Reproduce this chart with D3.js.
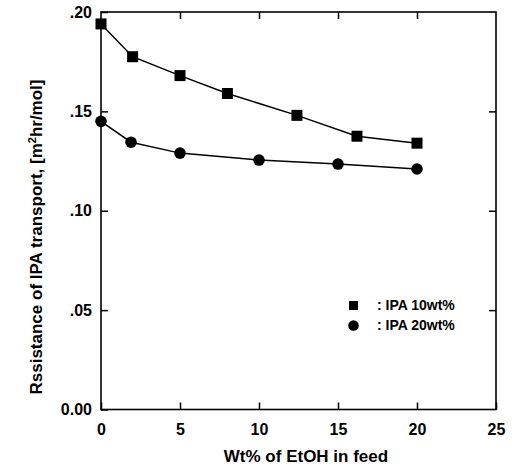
<!DOCTYPE html>
<html><head><meta charset="utf-8">
<script src="https://cdn.jsdelivr.net/npm/d3@7"></script>
<style>body{margin:0;background:#fff}svg{display:block}text{font-family:"Liberation Sans",Arial,sans-serif;fill:#000;font-weight:bold}</style>
</head><body><svg id="c" width="515" height="468"></svg>
<script>
const sqX = [0, 2, 5, 8, 12.4, 16.2, 20];
const sqY = [0.194, 0.1775, 0.168, 0.159, 0.148, 0.1375, 0.134];
const ciX = [0, 1.9, 5, 10, 15, 20];
const ciY = [0.145, 0.1345, 0.129, 0.1255, 0.1235, 0.121];
const xTicks = [0, 5, 10, 15, 20, 25];
const yTicks = [0, 0.05, 0.10, 0.15, 0.20];
const yTickLabels = ["0.00", ".05", ".10", ".15", ".20"];
const legendLabels = [": IPA 10wt%", ": IPA 20wt%"];

const svg = d3.select("#c");
const L = 101, R = 496, T = 12, B = 409.5;
const x = d3.scaleLinear().domain([0, 25]).range([L, R]);
const y = d3.scaleLinear().domain([0, 0.2]).range([B, T]);
const tl = 7;

svg.append("rect").attr("x", L).attr("y", T).attr("width", R - L).attr("height", B - T)
  .attr("fill", "none").attr("stroke", "#000").attr("stroke-width", 1.6);

const gB = svg.append("g").attr("transform", `translate(0,${B})`)
  .call(d3.axisBottom(x).tickValues(xTicks).tickSizeInner(-tl).tickSizeOuter(0).tickPadding(14).tickFormat(d3.format("d")));
const gT = svg.append("g").attr("transform", `translate(0,${T})`)
  .call(d3.axisTop(x).tickValues(xTicks.slice(1, -1)).tickSizeInner(-tl).tickSizeOuter(0).tickFormat(""));
const gL = svg.append("g").attr("transform", `translate(${L},0)`)
  .call(d3.axisLeft(y).tickValues(yTicks).tickSizeInner(-tl).tickSizeOuter(0).tickPadding(9).tickFormat((d, i) => yTickLabels[i]));
const gR = svg.append("g").attr("transform", `translate(${R},0)`)
  .call(d3.axisRight(y).tickValues(yTicks.slice(1, -1)).tickSizeInner(-tl).tickSizeOuter(0).tickFormat(""));
[gB, gT, gL, gR].forEach(g => {
  g.select(".domain").remove();
  g.selectAll(".tick line").attr("stroke", "#000").attr("stroke-width", 1.5);
  g.selectAll("text").style("font-size", "16px").style("font-weight", "bold").attr("fill", "#000").attr("font-family", null);
});

const line = d3.line().x(d => x(d[0])).y(d => y(d[1]));
const sq = sqX.map((v, i) => [v, sqY[i]]);
const ci = ciX.map((v, i) => [v, ciY[i]]);
svg.append("path").datum(sq).attr("d", line).attr("fill", "none").attr("stroke", "#000").attr("stroke-width", 1.5);
svg.append("path").datum(ci).attr("d", line).attr("fill", "none").attr("stroke", "#000").attr("stroke-width", 1.5);

const s = 11;
svg.selectAll(".sq").data(sq).enter().append("rect")
  .attr("x", d => x(d[0]) - s / 2).attr("y", d => y(d[1]) - s / 2).attr("width", s).attr("height", s).attr("fill", "#000");
svg.selectAll(".ci").data(ci).enter().append("circle")
  .attr("cx", d => x(d[0])).attr("cy", d => y(d[1])).attr("r", 5.8).attr("fill", "#000");

svg.append("rect").attr("x", 353.5 - 4.5).attr("y", 305.5 - 4.5).attr("width", 9).attr("height", 9).attr("fill", "#000");
svg.append("circle").attr("cx", 353.5).attr("cy", 325.5).attr("r", 5.3).attr("fill", "#000");
legendLabels.forEach((t, i) => {
  svg.append("text").attr("x", 377).attr("y", 310 + i * 20).style("font-size", "14px").text(t);
});

svg.append("text").attr("x", 306).attr("y", 462).attr("text-anchor", "middle").style("font-size", "17px")
  .text("Wt% of EtOH in feed");
const yt = svg.append("text").attr("transform", "translate(42,237) rotate(-90)").attr("text-anchor", "middle").style("font-size", "17px");
yt.append("tspan").text("Rssistance of IPA transport, [m");
yt.append("tspan").attr("dy", -6).style("font-size", "11px").text("2");
yt.append("tspan").attr("dy", 6).text("hr/mol]");
</script></body></html>
